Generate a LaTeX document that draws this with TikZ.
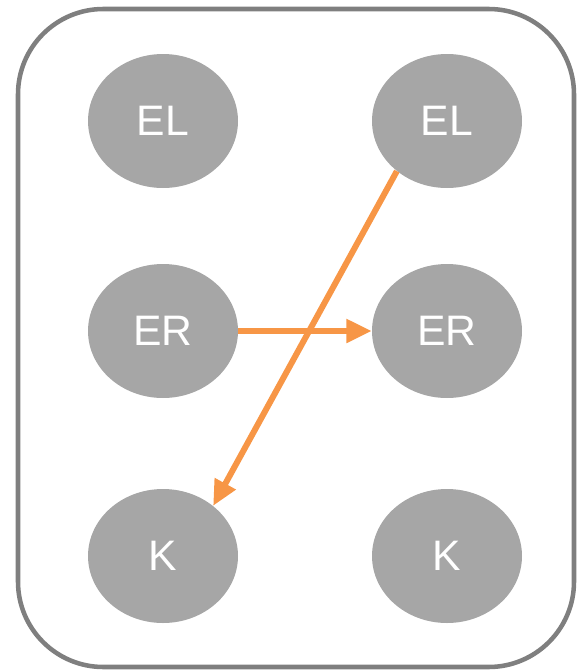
\documentclass[tikz,border=0pt]{standalone}
\usepackage{fontspec}
\setmainfont{Liberation Sans}
\usetikzlibrary{shapes.geometric,arrows.meta}
\definecolor{nodegray}{HTML}{A6A6A6}
\definecolor{framegray}{HTML}{7F7F7F}
\definecolor{arrorange}{HTML}{F79646}
\begin{document}
\begin{tikzpicture}[x=0.75pt,y=-0.75pt,
  blob/.style={ellipse,fill=nodegray,minimum width=112.5pt,minimum height=100.5pt,inner sep=0pt,text=white,font=\fontsize{32}{36}\selectfont},
  link/.style={draw=arrorange,line width=4.5pt,-{Triangle[length=19pt,width=17pt]}}]
\useasboundingbox (0,0) rectangle (576,671);
\draw[framegray,line width=3.4pt,rounded corners=64pt] (18,9) rectangle (574,667);
\node[blob] (elL) at (163,121) {EL};
\node[blob] (elR) at (447,121) {EL};
\node[blob] (erL) at (163,331) {ER};
\node[blob] (erR) at (447,331) {ER};
\node[blob] (kL) at (163,556) {K};
\node[blob] (kR) at (447,556) {K};
\draw[link] (erL.east) -- (erR.west);
\draw[link] (elR.225) -- (kL.45);
\end{tikzpicture}
\end{document}
